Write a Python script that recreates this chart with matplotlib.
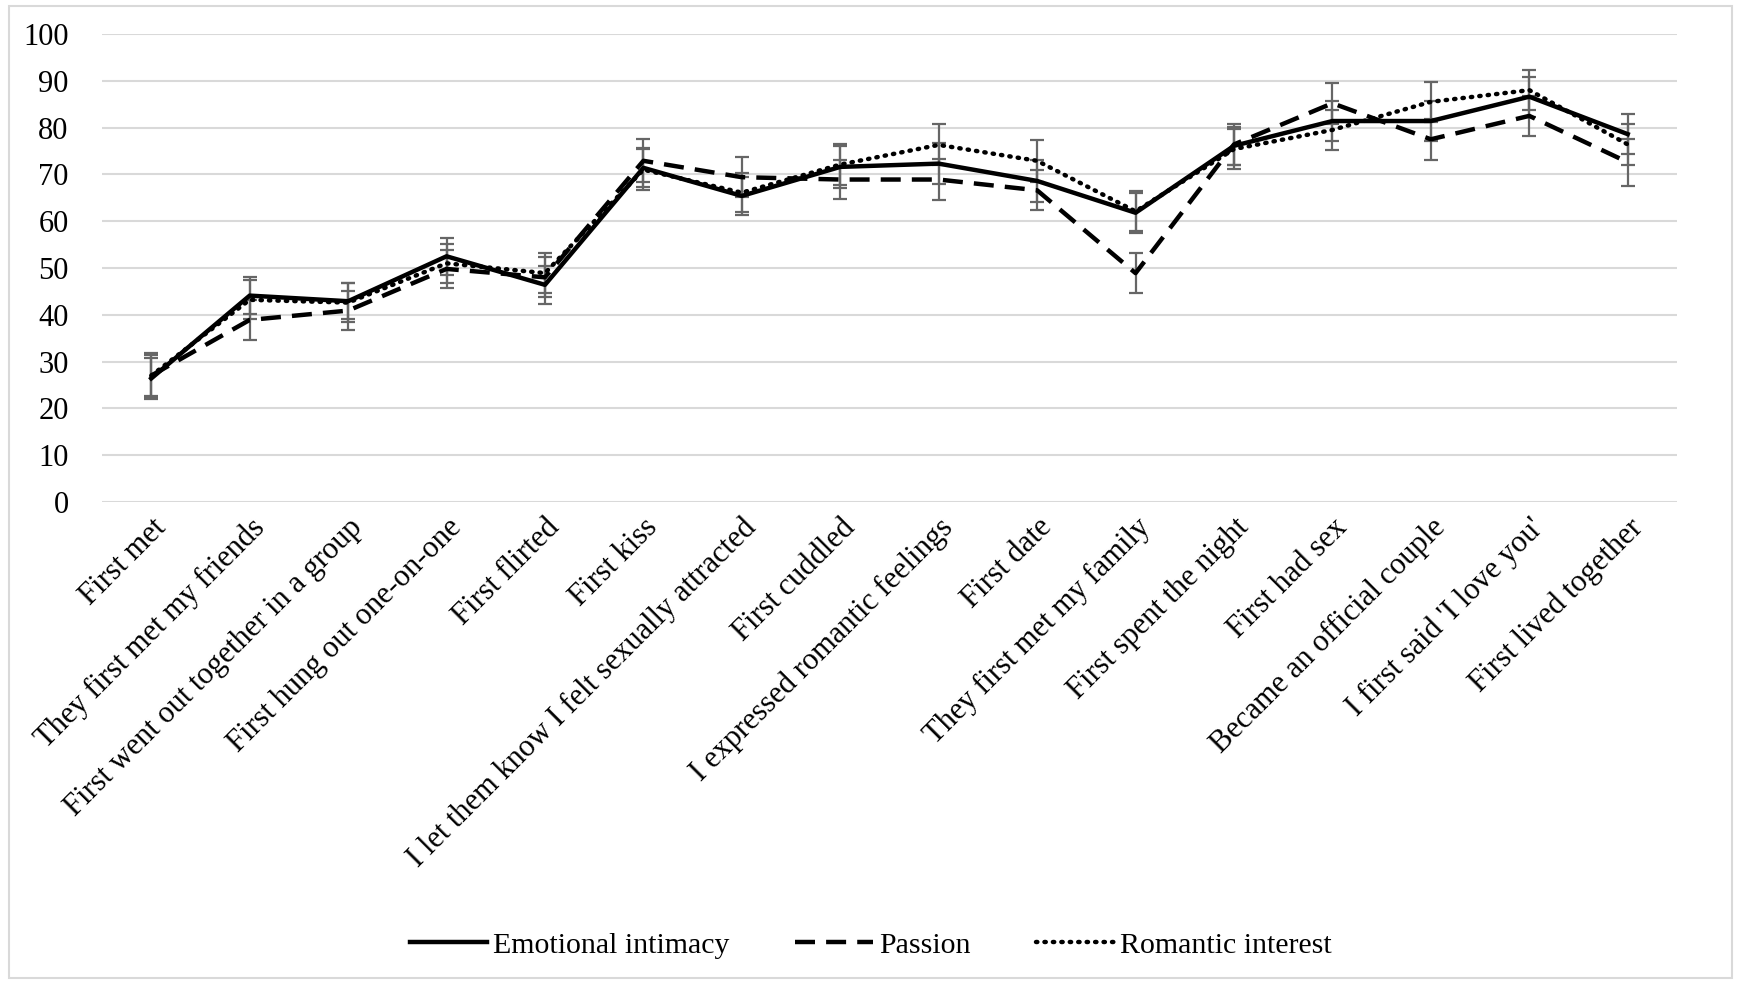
import matplotlib
matplotlib.use('Agg')
from matplotlib import pyplot as plt
from matplotlib.patches import Rectangle
import numpy as np

plt.rcParams['font.family'] = ['Liberation Serif', 'DejaVu Serif']

events = ['First met', 'They first met my friends', 'First went out together in a group',
          'First hung out one-on-one', 'First flirted', 'First kiss',
          'I let them know I felt sexually attracted', 'First cuddled',
          'I expressed romantic feelings', 'First date', 'They first met my family',
          'First spent the night', 'First had sex', 'Became an official couple',
          "I first said 'I love you'", 'First lived together']

intimacy = [26.4, 44.1, 42.9, 52.5, 46.4, 71.4, 65.4, 71.6, 72.3, 68.6, 61.8, 76.1, 81.4, 81.4, 86.6, 78.6]
passion = [27.0, 38.9, 40.9, 49.8, 48.0, 72.9, 69.4, 68.9, 68.9, 66.6, 48.9, 76.4, 85.2, 77.5, 82.5, 72.6]
romantic = [27.0, 43.2, 42.6, 51.0, 48.9, 71.0, 66.1, 72.1, 76.3, 72.9, 62.1, 75.4, 79.5, 85.5, 88.0, 76.4]

intimacy_err = [4.4, 4.0, 3.9, 4.0, 4.0, 4.2, 4.0, 4.5, 4.4, 4.5, 4.3, 4.0, 4.3, 4.3, 4.3, 4.3]
passion_err = [4.8, 4.2, 4.2, 4.0, 4.3, 4.6, 4.3, 4.2, 4.3, 4.3, 4.3, 4.3, 4.4, 4.4, 4.3, 5.0]
romantic_err = [4.4, 4.2, 4.2, 4.2, 4.2, 4.4, 4.2, 4.3, 4.4, 4.5, 4.3, 4.3, 4.3, 4.3, 4.3, 4.3]

fig = plt.figure(figsize=(17.41, 9.82), dpi=100)
ax = fig.add_axes([0.0586, 0.4888, 0.9046, 0.4766])
fig.patches.append(Rectangle((0.005, 0.004), 0.99, 0.99, transform=fig.transFigure,
                             fill=False, edgecolor='#d9d9d9', linewidth=1.5))

x = np.arange(len(events))
ebar = dict(ecolor='#666666', elinewidth=1.6, capsize=5, capthick=1.6, zorder=2)
ax.errorbar(x, intimacy, yerr=intimacy_err, fmt='none', **ebar)
ax.errorbar(x, passion, yerr=passion_err, fmt='none', **ebar)
ax.errorbar(x, romantic, yerr=romantic_err, fmt='none', **ebar)

ax.plot(x, intimacy, color='black', lw=3.2, ls='-', label='Emotional intimacy', zorder=3)
ax.plot(x, passion, color='black', lw=3.2, ls=(0, (4.5, 2.5)), label='Passion', zorder=3)
ax.plot(x, romantic, color='black', lw=3.2, ls=(0, (0.3, 1.6)), dash_capstyle='round',
        label='Romantic interest', zorder=3)

ax.set_xlim(-0.5, len(events) - 0.5)
ax.set_ylim(0, 100)
ax.set_yticks(np.arange(0, 101, 10))
ax.yaxis.grid(True, color='#d9d9d9', lw=1.5)
ax.set_axisbelow(True)
for s in ax.spines.values():
    s.set_visible(False)
ax.tick_params(length=0, labelsize=22)
ax.tick_params(axis='y', pad=24)
ax.tick_params(axis='x', pad=8)
ax.set_xticks(x)
ax.set_xticklabels(events, rotation=45, ha='right', rotation_mode='anchor')

ax.legend(loc='center', bbox_to_anchor=(0.5, 0.0375), bbox_transform=fig.transFigure,
          ncol=3, frameon=False, fontsize=21.5, handlelength=2.6, columnspacing=2.2,
          handletextpad=0.2)

fig.savefig('out.png', dpi=100)
